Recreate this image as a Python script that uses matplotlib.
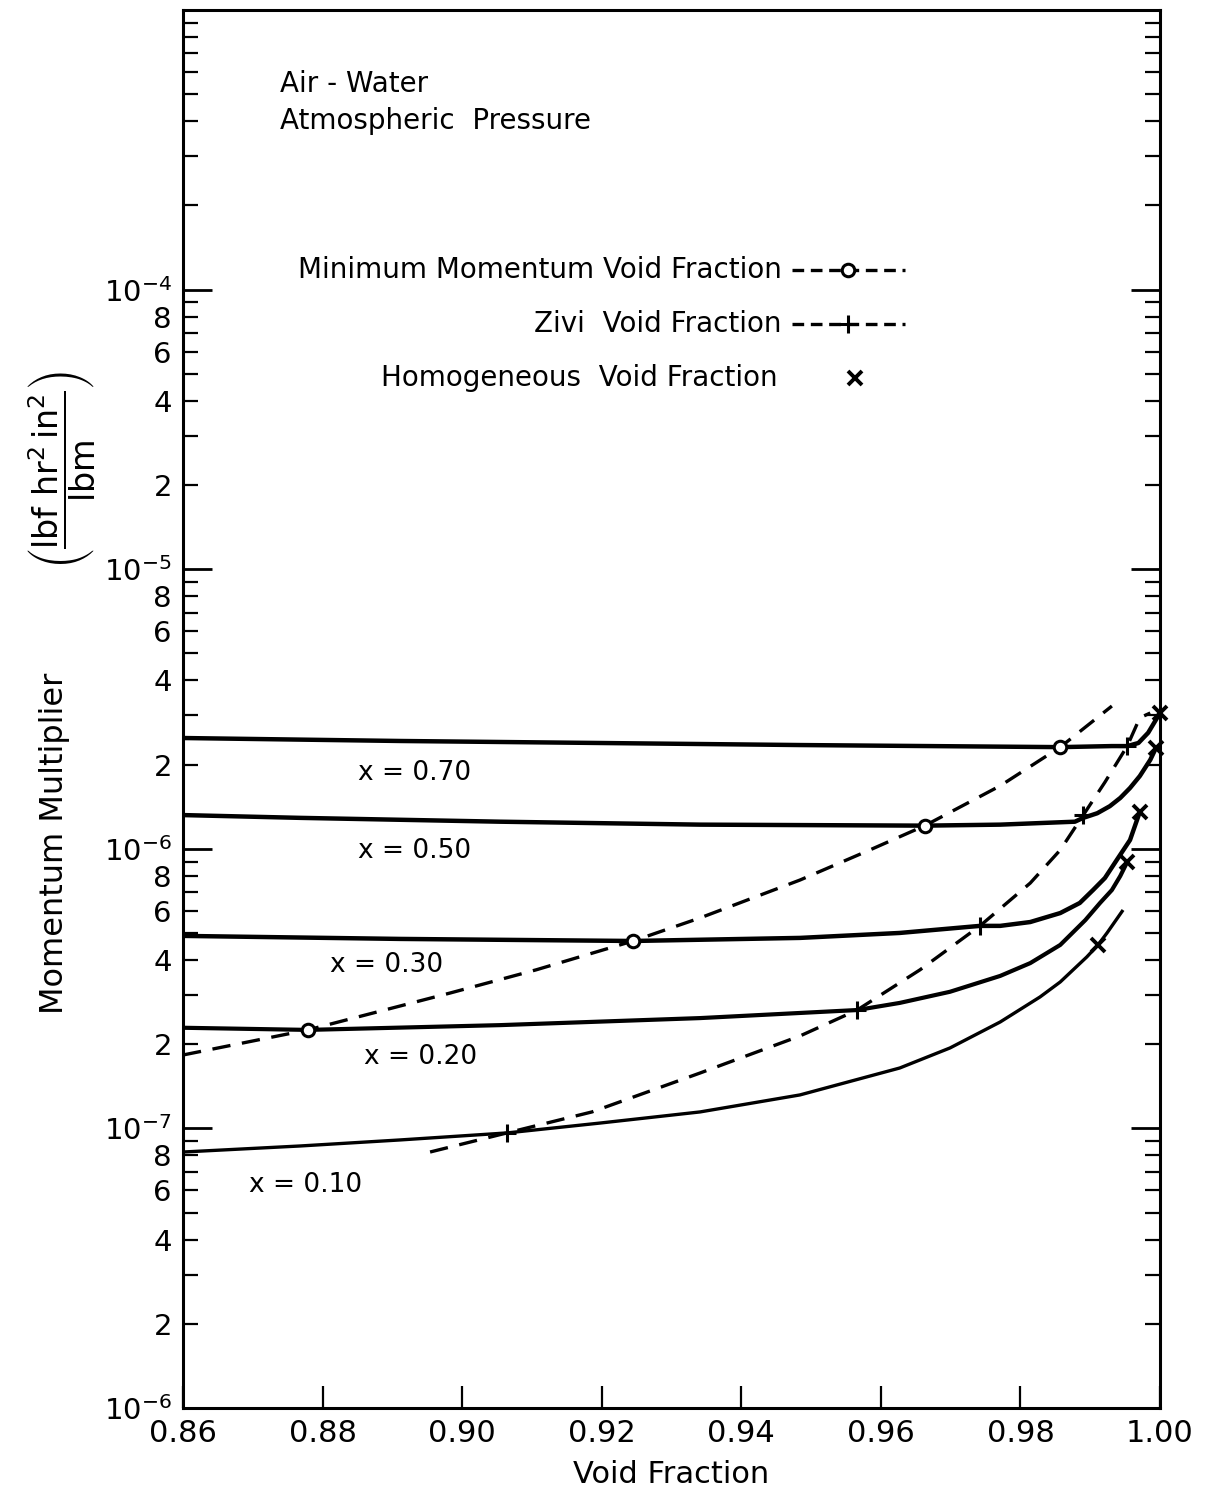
import matplotlib.pyplot as plt
from matplotlib.ticker import FixedLocator, FixedFormatter

plt.rcParams['font.family'] = ['DejaVu Sans']
plt.rcParams['mathtext.fontset'] = 'dejavusans'

# constant quality curves: void fraction -> momentum multiplier (lbf hr^2 in^2 / lbm)
alpha_70 = [0.860, 0.8911, 0.9198, 0.9484, 0.9857, 0.9931, 0.9953, 0.9969, 0.9983, 0.9994, 1.000]
mom_70 = [2.49e-6, 2.43e-6, 2.39e-6, 2.35e-6, 2.31e-6, 2.33e-6, 2.33e-6, 2.39e-6, 2.60e-6, 2.89e-6, 3.06e-6]

alpha_50 = [0.860, 0.8768, 0.9054, 0.9341, 0.9663, 0.9771, 0.9878, 0.9890, 0.9910, 0.9928,
            0.9943, 0.9957, 0.9971, 0.9986, 0.9994]
mom_50 = [1.32e-6, 1.29e-6, 1.25e-6, 1.22e-6, 1.21e-6, 1.22e-6, 1.25e-6, 1.29e-6, 1.34e-6, 1.42e-6,
          1.52e-6, 1.65e-6, 1.82e-6, 2.08e-6, 2.29e-6]

alpha_30 = [0.860, 0.8911, 0.9245, 0.9484, 0.9627, 0.9742, 0.9771, 0.9814, 0.9857, 0.9885,
            0.9904, 0.9921, 0.9938, 0.9957, 0.9971]
mom_30 = [4.88e-7, 4.76e-7, 4.68e-7, 4.80e-7, 5.00e-7, 5.30e-7, 5.30e-7, 5.47e-7, 5.89e-7, 6.40e-7,
          7.12e-7, 7.86e-7, 9.12e-7, 1.075e-6, 1.354e-6]

alpha_20 = [0.860, 0.8779, 0.9054, 0.9341, 0.9566, 0.9627, 0.9699, 0.9771, 0.9814, 0.9857,
            0.9893, 0.9914, 0.9931, 0.9943, 0.9953]
mom_20 = [2.29e-7, 2.25e-7, 2.34e-7, 2.48e-7, 2.65e-7, 2.81e-7, 3.08e-7, 3.51e-7, 3.90e-7, 4.53e-7,
          5.56e-7, 6.40e-7, 7.12e-7, 7.99e-7, 8.97e-7]

alpha_10 = [0.860, 0.8768, 0.8911, 0.9064, 0.9198, 0.9341, 0.9484, 0.9627, 0.9699, 0.9771,
            0.9828, 0.9857, 0.9895, 0.9911, 0.9924, 0.9947]
mom_10 = [8.23e-8, 8.65e-8, 9.09e-8, 9.63e-8, 1.045e-7, 1.145e-7, 1.317e-7, 1.644e-7, 1.939e-7, 2.402e-7,
          2.951e-7, 3.339e-7, 4.102e-7, 4.527e-7, 4.999e-7, 6.04e-7]

# minimum momentum void fraction locus
alpha_minmom = [0.860, 0.8779, 0.8983, 0.9106, 0.9245, 0.9341, 0.9484, 0.9584, 0.9663, 0.9771, 0.9857, 0.9931]
mom_minmom = [1.83e-7, 2.25e-7, 3.05e-7, 3.69e-7, 4.68e-7, 5.66e-7, 7.73e-7, 9.90e-7, 1.21e-6, 1.68e-6,
              2.31e-6, 3.24e-6]
circle_alpha = [0.8779, 0.9245, 0.9663, 0.9857]
circle_mom = [2.25e-7, 4.68e-7, 1.21e-6, 2.31e-6]

# Zivi void fraction locus
alpha_zivi = [0.8954, 0.9064, 0.9186, 0.9341, 0.9484, 0.9566, 0.9656, 0.9742, 0.9814, 0.9857,
              0.9890, 0.9921, 0.9953, 0.9971, 0.9986]
mom_zivi = [8.23e-8, 9.63e-8, 1.145e-7, 1.578e-7, 2.14e-7, 2.65e-7, 3.69e-7, 5.30e-7, 7.54e-7, 9.90e-7,
            1.32e-6, 1.73e-6, 2.33e-6, 2.94e-6, 3.06e-6]
plus_alpha = [0.9064, 0.9566, 0.9742, 0.9890, 0.9953]
plus_mom = [9.63e-8, 2.65e-7, 5.30e-7, 1.32e-6, 2.33e-6]

# homogeneous void fraction points
homo_alpha = [0.9911, 0.9953, 0.9971, 0.9994, 1.000]
homo_mom = [4.527e-7, 8.97e-7, 1.354e-6, 2.29e-6, 3.06e-6]

curve_labels = ['x = 0.70', 'x = 0.50', 'x = 0.30', 'x = 0.20', 'x = 0.10']
label_alpha = [0.8932, 0.8932, 0.8891, 0.8940, 0.8775]
label_mom = [1.87e-6, 9.8e-7, 3.84e-7, 1.80e-7, 6.27e-8]

x_ticks = [0.86, 0.88, 0.90, 0.92, 0.94, 0.96, 0.98, 1.00]
x_ticklabels = ['0.86', '0.88', '0.90', '0.92', '0.94', '0.96', '0.98', '1.00']
decades = [1e-8, 1e-7, 1e-6, 1e-5, 1e-4, 1e-3]
decade_labels = ['$10^{-6}$', '$10^{-7}$', '$10^{-6}$', '$10^{-5}$', '$10^{-4}$', '']

fig = plt.figure(figsize=(12.09, 15.01), dpi=100)
ax = fig.add_axes([0.1514, 0.0620, 0.8081, 0.9313])

dash = (0, (5.5, 3.5))
solid = dict(color='black', solid_capstyle='butt', solid_joinstyle='round')
ax.plot(alpha_70, mom_70, lw=3.2, **solid)
ax.plot(alpha_50, mom_50, lw=3.2, **solid)
ax.plot(alpha_30, mom_30, lw=3.2, **solid)
ax.plot(alpha_20, mom_20, lw=3.0, **solid)
ax.plot(alpha_10, mom_10, lw=2.4, **solid)

ax.plot(alpha_minmom, mom_minmom, color='black', lw=2.4, ls=dash)
ax.plot(alpha_zivi, mom_zivi, color='black', lw=2.4, ls=dash)

ax.plot(circle_alpha, circle_mom, ls='none', marker='o', ms=9, mfc='white', mec='black', mew=2.2, zorder=5)
ax.plot(plus_alpha, plus_mom, ls='none', marker='+', ms=13, mec='black', mew=2.2, zorder=5)
ax.plot(homo_alpha, homo_mom, ls='none', marker='x', ms=10, mec='black', mew=2.8, zorder=5, clip_on=False)

for txt, a, m in zip(curve_labels, label_alpha, label_mom):
    ax.text(a, m, txt, fontsize=19, ha='center', va='center')

ax.set_yscale('log')
ax.set_xlim(0.86, 1.00)
ax.set_ylim(1e-8, 1e-3)

ax.set_xticks(x_ticks)
ax.set_xticklabels(x_ticklabels)
ax.yaxis.set_major_locator(FixedLocator(decades))
ax.yaxis.set_major_formatter(FixedFormatter(decade_labels))

minor_pos, minor_lab = [], []
for d in decades[:-1]:
    for k in range(2, 10):
        minor_pos.append(k * d)
        minor_lab.append(str(k) if (k % 2 == 0 and d < 1e-4) else '')
ax.yaxis.set_minor_locator(FixedLocator(minor_pos))
ax.yaxis.set_minor_formatter(FixedFormatter(minor_lab))

ax.tick_params(axis='x', which='both', direction='in', length=16, width=1.6, labelsize=22, pad=8, top=False)
ax.tick_params(axis='y', which='major', direction='in', length=21, width=2.0, labelsize=21, pad=8,
               right=True)
ax.tick_params(axis='y', which='minor', direction='in', length=11, width=1.6, labelsize=21, pad=8,
               right=True)
for s in ax.spines.values():
    s.set_linewidth(2.2)

ax.set_xlabel('Void Fraction', fontsize=22)
ax.xaxis.set_label_coords(0.5, -0.037)

fig.text(0.045, 0.438, 'Momentum Multiplier', rotation=90, fontsize=23, ha='center', va='center')
fig.text(0.052, 0.687, r'$\left(\dfrac{\mathrm{lbf\ hr^{2}\,in^{2}}}{\mathrm{lbm}}\right)$',
         rotation=90, fontsize=24, ha='center', va='center')

ax.text(0.0993, 0.947, 'Air - Water', transform=ax.transAxes, fontsize=20, ha='left', va='center')
ax.text(0.0993, 0.9206, 'Atmospheric  Pressure', transform=ax.transAxes, fontsize=20, ha='left', va='center')

legend_y = [0.814, 0.7754, 0.7368]
ax.text(0.613, legend_y[0], 'Minimum Momentum Void Fraction', transform=ax.transAxes,
        fontsize=20, ha='right', va='center')
ax.text(0.613, legend_y[1], 'Zivi  Void Fraction', transform=ax.transAxes,
        fontsize=20, ha='right', va='center')
ax.text(0.609, legend_y[2], 'Homogeneous  Void Fraction', transform=ax.transAxes,
        fontsize=20, ha='right', va='center')
ax.plot([0.623, 0.681, 0.739], [legend_y[0]] * 3, transform=ax.transAxes, color='black', lw=2.4,
        ls=(0, (3.5, 2.0)), marker='o', markevery=[1], ms=9, mfc='white', mec='black', mew=2.2,
        clip_on=False)
ax.plot([0.623, 0.681, 0.739], [legend_y[1]] * 3, transform=ax.transAxes, color='black', lw=2.4,
        ls=(0, (3.5, 2.0)), marker='+', markevery=[1], ms=13, mec='black', mew=2.2, clip_on=False)
ax.plot([0.688], [legend_y[2]], transform=ax.transAxes, ls='none', marker='x', ms=10,
        mec='black', mew=2.8, clip_on=False)

fig.savefig('out.png', dpi=100)
